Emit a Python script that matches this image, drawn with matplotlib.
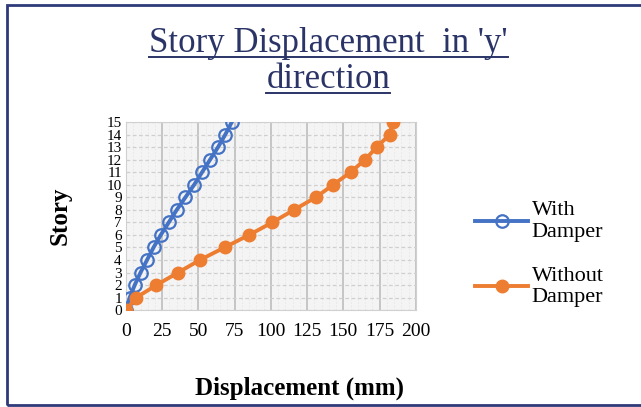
import numpy as np
import matplotlib.pyplot as plt
from matplotlib.patches import Rectangle

# story levels and displacements (mm)
stories = list(range(16))
with_damper = [0, 2.5, 6, 10, 14.5, 19, 24, 29.5, 35, 41, 47, 52.5, 58, 63.5, 68.5, 73]
without_damper = [0, 7, 21, 36, 51, 68, 85, 101, 116, 131, 143, 155, 165, 173, 182, 184]
x_ticks = [0, 25, 50, 75, 100, 125, 150, 175, 200]

title_color = '#2b3467'
plt.rcParams['font.family'] = ['Liberation Serif', 'DejaVu Serif']

fig = plt.figure(figsize=(6.41, 4.07), dpi=100)
ax = fig.add_axes([0.1966, 0.238, 0.452, 0.462])

ax.plot(with_damper, stories, color='#4472C4', lw=2.8, marker='o', ms=9,
        mfc='none', mew=1.6, label='With\nDamper', zorder=3)
ax.plot(without_damper, stories, color='#ED7D31', lw=2.8, marker='o', ms=9,
        label='Without\nDamper', zorder=3)

ax.set_xlim(0, 200)
ax.set_ylim(0, 15)
ax.set_xticks(x_ticks)
ax.set_xticklabels([str(t) for t in x_ticks], fontsize=14)
ax.set_yticks(stories)
ax.set_yticklabels([str(s) for s in stories], fontsize=11)
ax.set_xticks(np.arange(0, 201, 5), minor=True)
ax.tick_params(which='both', length=0)
ax.tick_params(axis='x', pad=9)
ax.tick_params(axis='y', pad=3)

ax.set_facecolor('#f4f4f4')
ax.grid(True, axis='x', which='major', color='#bdbdbd', lw=1.2)
ax.grid(True, axis='x', which='minor', color='#e6e6e6', lw=0.6, ls=(0, (2, 2)))
ax.grid(True, axis='y', which='major', color='#cfcfcf', lw=0.9, ls=(0, (3, 2)))
ax.set_axisbelow(True)
for s in ax.spines.values():
    s.set_color('#d0d0d0')

fig.text(0.468, 0.047, 'Displacement (mm)', ha='center', va='center',
         fontsize=18, fontweight='bold')
fig.text(0.094, 0.47, 'Story', ha='center', va='center', rotation=90,
         fontsize=18, fontweight='bold')

ax.legend(loc='center left', bbox_to_anchor=(0.71, 0.375),
          bbox_transform=fig.transFigure, frameon=False,
          fontsize=16, handlelength=2.4, labelspacing=1.1, handletextpad=0.15)

# title with underline
t1 = fig.text(0.512, 0.894, "Story Displacement  in 'y'", ha='center', va='center',
              fontsize=25, color=title_color)
t2 = fig.text(0.512, 0.805, 'direction', ha='center', va='center',
              fontsize=25, color=title_color)
fig.canvas.draw()
inv = fig.transFigure.inverted()
for t in (t1, t2):
    bb = t.get_window_extent()
    (x0, y0), (x1, y1) = inv.transform([[bb.x0, bb.y0], [bb.x1, bb.y1]])
    fig.add_artist(plt.Line2D([x0, x1], [y0 + 0.006, y0 + 0.006],
                              transform=fig.transFigure, color=title_color, lw=1.4))

# outer border of chart area
fig.add_artist(Rectangle((0.011, 0.004), 1.2, 0.984, transform=fig.transFigure,
                         fill=False, ec='#2e3a7a', lw=2))

fig.savefig('out.png', dpi=100)
